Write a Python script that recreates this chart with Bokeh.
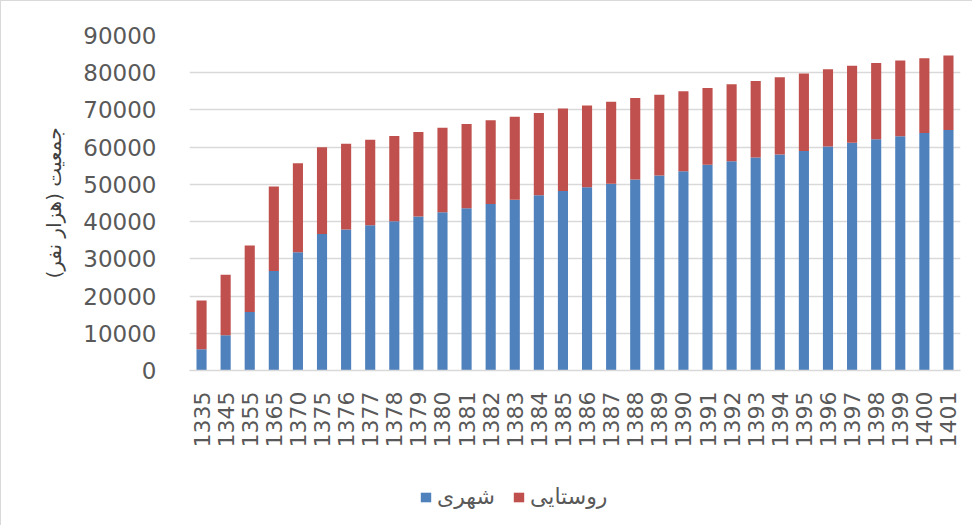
import math
from bokeh.plotting import figure
from bokeh.layouts import column
from bokeh.models import ColumnDataSource, FactorRange, Range1d, FixedTicker, BasicTickFormatter, Legend, LegendItem
from bokeh.embed import file_html
from bokeh.resources import INLINE

years = ["1335", "1345", "1355", "1365", "1370", "1375", "1376", "1377", "1378", "1379",
         "1380", "1381", "1382", "1383", "1384", "1385", "1386", "1387", "1388", "1389",
         "1390", "1391", "1392", "1393", "1394", "1395", "1396", "1397", "1398", "1399",
         "1400", "1401"]
urban = [5700, 9500, 15700, 26700, 31800, 36700, 37900, 39000, 40100, 41400,
         42500, 43600, 44700, 45900, 47100, 48200, 49200, 50200, 51300, 52400,
         53500, 55300, 56200, 57200, 58000, 59000, 60200, 61200, 62100, 62900,
         63800, 64600]
rural = [13100, 16200, 17900, 22700, 23900, 23300, 23000, 23000, 22900, 22700,
         22700, 22600, 22500, 22300, 22100, 22200, 22000, 22000, 21900, 21700,
         21500, 20600, 20700, 20600, 20800, 20800, 20700, 20700, 20500, 20400,
         20100, 20000]
y_ticks = [0, 10000, 20000, 30000, 40000, 50000, 60000, 70000, 80000, 90000]
series_names = ["شهری", "روستایی"]
colors = ["#4F81BD", "#C0504D"]
y_title = "جمعیت (هزار نفر)"

src = ColumnDataSource(dict(year=years, urban=urban, rural=rural))

W = 971
H1, H2 = 462, 62
p = figure(x_range=FactorRange(*years), y_range=Range1d(0, 90000),
           width=W, height=H1, output_backend="svg", toolbar_location=None,
           min_border_left=188, min_border_right=12, min_border_top=34,
           min_border_bottom=H1 - 369)

p.vbar_stack(["urban", "rural"], x="year", width=0.42, source=src,
             color=colors, line_color=None)

p.outline_line_color = None
p.xgrid.grid_line_color = None
p.ygrid.grid_line_color = "#d9d9d9"
p.ygrid.grid_line_width = 1.5

p.yaxis.ticker = FixedTicker(ticks=y_ticks)
p.yaxis.formatter = BasicTickFormatter(use_scientific=False)
p.yaxis.axis_line_color = None
p.yaxis.major_tick_line_color = None
p.yaxis.minor_tick_line_color = None
p.yaxis.major_label_standoff = 27
p.yaxis.major_label_text_font = "DejaVu Sans"
p.yaxis.major_label_text_font_size = "23px"
p.yaxis.major_label_text_color = "#595959"
p.yaxis.axis_label = y_title
p.yaxis.axis_label_text_font = "DejaVu Sans"
p.yaxis.axis_label_text_font_size = "20px"
p.yaxis.axis_label_text_font_style = "normal"
p.yaxis.axis_label_text_color = "#404040"
p.yaxis.axis_label_standoff = 14

p.xaxis.axis_line_color = "#d9d9d9"
p.xaxis.axis_line_width = 1.5
p.xaxis.major_tick_line_color = None
p.xaxis.minor_tick_line_color = None
p.xaxis.major_label_orientation = math.pi / 2
p.xaxis.major_label_standoff = 15
p.xaxis.major_label_text_font = "DejaVu Sans"
p.xaxis.major_label_text_font_size = "22px"
p.xaxis.major_label_text_color = "#595959"

# legend strip below the chart (its renderers are hidden, only the legend shows)
p2 = figure(width=W, height=H2, output_backend="svg", toolbar_location=None,
            x_range=FactorRange(*years), y_range=Range1d(0, 90000),
            min_border=0, outline_line_color=None)
p2.xaxis.visible = False
p2.yaxis.visible = False
p2.grid.visible = False
lr = p2.vbar_stack(["urban", "rural"], x="year", width=0.42, source=src,
                   color=colors, line_color=None)
for rr in lr:
    rr.visible = False
legend = Legend(items=[LegendItem(label=series_names[i], renderers=[lr[i]]) for i in range(2)],
                orientation="horizontal", location=(230, 16),
                glyph_width=13, glyph_height=12, label_standoff=5, spacing=17,
                label_text_font="DejaVu Sans", label_text_font_size="22px",
                label_text_color="#595959", border_line_color=None,
                background_fill_alpha=0, padding=4, margin=0, click_policy="none")
p2.add_layout(legend, "center")

layout = column(p, p2, spacing=0)
layout.styles = {"border-left": "1.5px solid #d9d9d9", "border-top": "1.5px solid #d9d9d9"}

open("out.html", "w").write(file_html(layout, INLINE))
